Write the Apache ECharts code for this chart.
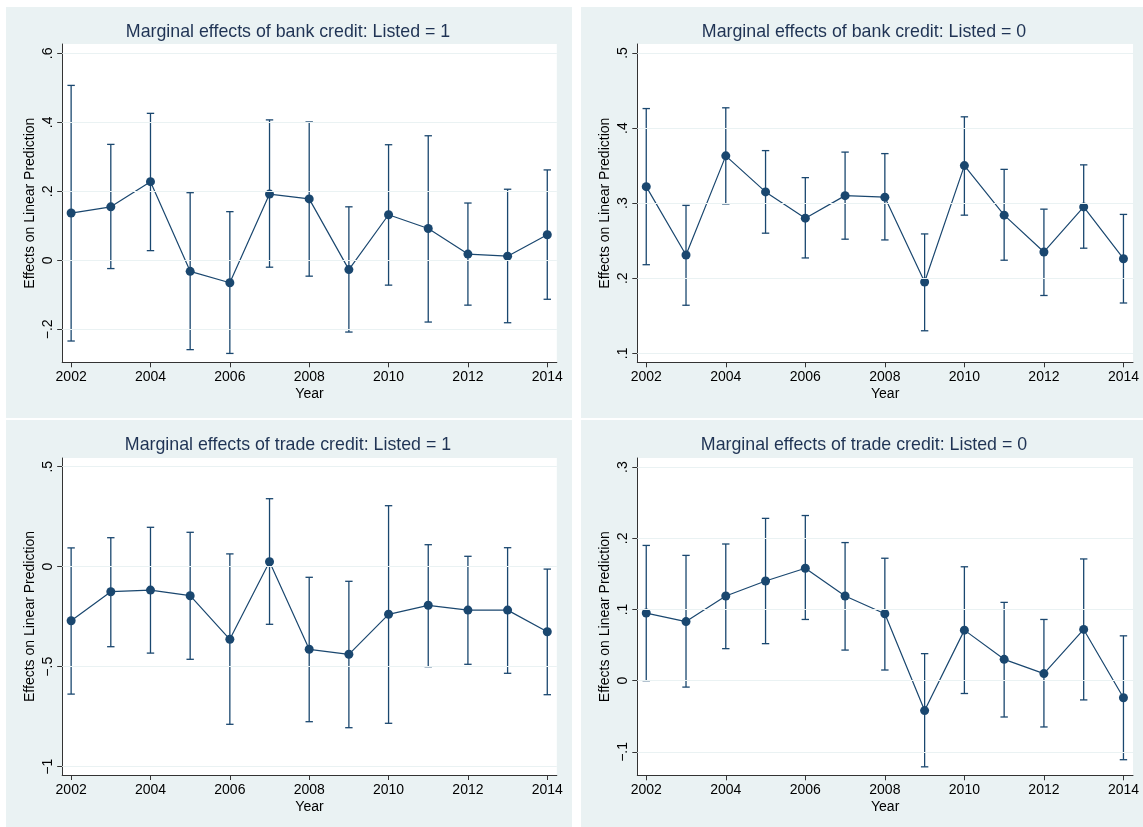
<!DOCTYPE html>
<html>
<head>
<meta charset="utf-8">
<script src="https://cdn.jsdelivr.net/npm/echarts@6/dist/echarts.min.js"></script>
<style>
html,body{margin:0;padding:0;background:#fff;}
#chart{width:1143px;height:827px;}
</style>
</head>
<body>
<div id="chart"></div>
<script>
// ---------------- DATA ----------------
var years = [2002,2003,2004,2005,2006,2007,2008,2009,2010,2011,2012,2013,2014];
var xTicks = [2002,2004,2006,2008,2010,2012,2014];

// Panel 1: bank credit, Listed = 1
var bank1Est = [0.137,0.155,0.228,-0.032,-0.065,0.192,0.178,-0.027,0.132,0.092,0.018,0.012,0.074];
var bank1Lo  = [-0.234,-0.024,0.028,-0.259,-0.270,-0.020,-0.046,-0.208,-0.072,-0.179,-0.130,-0.181,-0.113];
var bank1Hi  = [0.507,0.336,0.426,0.196,0.141,0.407,0.401,0.155,0.335,0.361,0.166,0.206,0.262];
var bank1Ticks = [-0.2,0,0.2,0.4,0.6];
var bank1Labels = ['\u2212.2','0','.2','.4','.6'];

// Panel 2: bank credit, Listed = 0
var bank0Est = [0.322,0.231,0.363,0.315,0.280,0.310,0.308,0.195,0.350,0.284,0.235,0.295,0.226];
var bank0Lo  = [0.218,0.164,0.299,0.260,0.227,0.252,0.251,0.130,0.284,0.224,0.177,0.240,0.167];
var bank0Hi  = [0.426,0.297,0.427,0.370,0.334,0.368,0.366,0.259,0.415,0.345,0.292,0.351,0.285];
var bank0Ticks = [0.1,0.2,0.3,0.4,0.5];
var bank0Labels = ['.1','.2','.3','.4','.5'];

// Panel 3: trade credit, Listed = 1
var trade1Est = [-0.270,-0.125,-0.117,-0.145,-0.363,0.025,-0.413,-0.438,-0.238,-0.193,-0.217,-0.217,-0.325];
var trade1Lo  = [-0.637,-0.400,-0.432,-0.463,-0.788,-0.288,-0.775,-0.805,-0.783,-0.500,-0.488,-0.533,-0.640];
var trade1Hi  = [0.094,0.145,0.197,0.172,0.064,0.340,-0.053,-0.073,0.305,0.110,0.052,0.095,-0.012];
var trade1Ticks = [-1,-0.5,0,0.5];
var trade1Labels = ['\u22121','\u2212.5','0','.5'];

// Panel 4: trade credit, Listed = 0
var trade0Est = [0.095,0.083,0.119,0.140,0.158,0.119,0.094,-0.042,0.071,0.030,0.010,0.072,-0.024];
var trade0Lo  = [0.000,-0.009,0.045,0.052,0.086,0.043,0.015,-0.121,-0.018,-0.051,-0.065,-0.027,-0.111];
var trade0Hi  = [0.190,0.176,0.192,0.228,0.232,0.194,0.172,0.038,0.160,0.110,0.086,0.171,0.063];
var trade0Ticks = [-0.1,0,0.1,0.2,0.3];
var trade0Labels = ['\u2212.1','0','.1','.2','.3'];

var titles = [
  'Marginal effects of bank credit: Listed = 1',
  'Marginal effects of bank credit: Listed = 0',
  'Marginal effects of trade credit: Listed = 1',
  'Marginal effects of trade credit: Listed = 0'
];
var yName = 'Effects on Linear Prediction';
var xName = 'Year';

// ---------------- LAYOUT / STYLE ----------------
var NAVY = '#1A476F';
var BG = '#EAF2F3';
var FONT = '"Liberation Sans", Arial, Helvetica, sans-serif';

var panels = [
  {est:bank1Est, lo:bank1Lo, hi:bank1Hi, ticks:bank1Ticks, labels:bank1Labels, ymin:-0.2957, ymax:0.627,
   box:[6,7,566,411], titleX:288, grid:{left:62.2, top:44, width:494.6, height:318.3}},
  {est:bank0Est, lo:bank0Lo, hi:bank0Hi, ticks:bank0Ticks, labels:bank0Labels, ymin:0.088, ymax:0.512,
   box:[581,7,562,411], titleX:864, grid:{left:637.3, top:44, width:495.7, height:318.3}},
  {est:trade1Est, lo:trade1Lo, hi:trade1Hi, ticks:trade1Ticks, labels:trade1Labels, ymin:-1.0415, ymax:0.5435,
   box:[6,420,566,407], titleX:288, grid:{left:62.2, top:458, width:494.6, height:317}},
  {est:trade0Est, lo:trade0Lo, hi:trade0Hi, ticks:trade0Ticks, labels:trade0Labels, ymin:-0.1329, ymax:0.3128,
   box:[581,420,562,407], titleX:864, grid:{left:637.3, top:458, width:495.7, height:317.3}}
];

var option = {
  backgroundColor: '#fff',
  animation: false,
  textStyle: {fontFamily: FONT},
  grid: [],
  xAxis: [],
  yAxis: [],
  series: [],
  graphic: []
};

panels.forEach(function(p, i){
  option.graphic.push({type:'rect', z:-10, silent:true,
    shape:{x:p.box[0], y:p.box[1], width:p.box[2], height:p.box[3]},
    style:{fill:BG}});
  option.graphic.push({type:'text', z:5, silent:true,
    x: p.titleX, y: p.box[1] + 25,
    style:{text: titles[i], fill:'#1f3354', font: 'normal 17.8px ' + FONT,
      textAlign:'center', textVerticalAlign:'middle'}});
  option.grid.push({
    left: p.grid.left, top: p.grid.top, width: p.grid.width, height: p.grid.height,
    show: true, backgroundColor: '#fff', borderWidth: 0
  });
  option.xAxis.push({
    type: 'value', gridIndex: i, min: 2001.775, max: 2014.24,
    name: xName, nameLocation: 'middle', nameGap: 25,
    nameTextStyle: {fontFamily: FONT, fontSize: 14, color: '#000', verticalAlign: 'top'},
    axisLine: {show: true, onZero: false, lineStyle: {color: '#333', width: 1}},
    axisTick: {show: true, inside: false, length: 5, customValues: xTicks, lineStyle: {color: '#333'}},
    axisLabel: {show: true, customValues: xTicks, margin: 8, fontFamily: FONT, fontSize: 14, color: '#000',
      formatter: function(v){ return String(Math.round(v)); }},
    splitLine: {show: false}
  });
  var labs = p.labels, tks = p.ticks;
  option.yAxis.push({
    type: 'value', gridIndex: i, min: p.ymin, max: p.ymax,
    name: yName, nameLocation: 'middle', nameGap: 25, nameRotate: 90,
    nameTextStyle: {fontFamily: FONT, fontSize: 14, color: '#000'},
    axisLine: {show: true, onZero: false, lineStyle: {color: '#333', width: 1}},
    axisTick: {show: true, inside: false, length: 5, customValues: tks, lineStyle: {color: '#333'}},
    axisLabel: {show: true, customValues: tks, rotate: 90, margin: 7, fontFamily: FONT, fontSize: 14, color: '#000',
      formatter: function(v){
        var best = 0, d = Infinity;
        for (var k = 0; k < tks.length; k++) { var dd = Math.abs(tks[k]-v); if (dd < d) { d = dd; best = k; } }
        return labs[best];
      }},
    splitLine: {show: false}
  });
  // gridlines
  option.series.push({
    type: 'line', xAxisIndex: i, yAxisIndex: i, data: [], silent: true, z: 1,
    markLine: {
      silent: true, symbol: ['none','none'], animation: false,
      label: {show: false},
      lineStyle: {color: BG, width: 1.2, type: 'solid'},
      emphasis: {disabled: true},
      data: tks.map(function(t){ return {yAxis: t}; })
    }
  });
  // error bars
  var ebData = years.map(function(y, k){ return [y, p.lo[k], p.hi[k]]; });
  option.series.push({
    type: 'custom', xAxisIndex: i, yAxisIndex: i, z: 3, silent: true,
    data: ebData,
    encode: {x: 0, y: [1, 2]},
    renderItem: function(params, api){
      var x = api.value(0);
      var a = api.coord([x, api.value(1)]);
      var b = api.coord([x, api.value(2)]);
      var w = 3.7;
      var st = {stroke: NAVY, lineWidth: 1.3};
      return {type: 'group', children: [
        {type: 'line', shape: {x1: a[0], y1: a[1], x2: b[0], y2: b[1]}, style: st},
        {type: 'line', shape: {x1: a[0]-w, y1: a[1], x2: a[0]+w, y2: a[1]}, style: st},
        {type: 'line', shape: {x1: b[0]-w, y1: b[1], x2: b[0]+w, y2: b[1]}, style: st}
      ]};
    }
  });
  // estimates
  option.series.push({
    type: 'line', xAxisIndex: i, yAxisIndex: i, z: 4, silent: true,
    data: years.map(function(y, k){ return [y, p.est[k]]; }),
    symbol: 'circle', symbolSize: 9, showSymbol: true,
    lineStyle: {color: NAVY, width: 1.2},
    itemStyle: {color: NAVY}
  });
});

var chart = echarts.init(document.getElementById('chart'), null, {renderer: 'canvas'});
chart.setOption(option);
</script>
</body>
</html>
